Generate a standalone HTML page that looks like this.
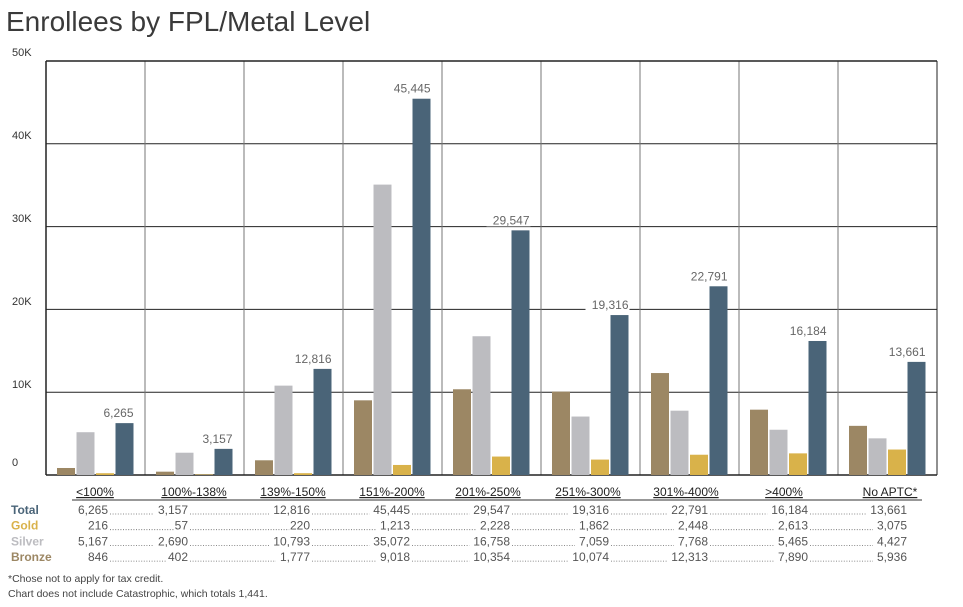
<!DOCTYPE html>
<html><head><meta charset="utf-8"><style>
body{margin:0;background:#fff;width:963px;height:607px;overflow:hidden;font-family:"Liberation Sans","DejaVu Sans",sans-serif}
svg{display:block}
</style></head><body>
<svg id="s" width="963" height="607" xmlns="http://www.w3.org/2000/svg">
<text x="6" y="31" font-size="28" fill="#3a3a3a" font-family="Liberation Sans, sans-serif">Enrollees by FPL/Metal Level</text>
</svg>
<script>
const s=document.getElementById('s');let h='';
const L=46,R=937,T=61,B=475,W=(R-L)/9;
const sc=(B-T)/50000;
[10000,20000,30000,40000].forEach(v=>{const y=B-v*sc;h+=`<line x1="${L}" x2="${R}" y1="${y}" y2="${y}" stroke="#222" stroke-width="1"/>`;});
for(let i=1;i<9;i++){const x=L+i*W;h+=`<line x1="${x}" x2="${x}" y1="${T}" y2="${B}" stroke="#777" stroke-width="1"/>`;}
h+=`<line x1="${L}" x2="${R}" y1="${T}" y2="${T}" stroke="#222" stroke-width="1.5"/>`;
h+=`<line x1="${L}" x2="${L}" y1="${T}" y2="${B}" stroke="#222" stroke-width="1.5"/>`;
h+=`<line x1="${R}" x2="${R}" y1="${T}" y2="${B}" stroke="#222" stroke-width="1"/>`;
h+=`<line x1="${L}" x2="${R}" y1="${B}" y2="${B}" stroke="#222" stroke-width="1.5"/>`;
[['50K',T],['40K',144],['30K',227],['20K',310],['10K',393],['0',471]].forEach(([t,y])=>{h+=`<text x="12" y="${y-5}" font-size="11" fill="#333">${t}</text>`;});
const d=[[846,5167,216,6265],[402,2690,57,3157],[1777,10793,220,12816],[9018,35072,1213,45445],[10354,16758,2228,29547],[10074,7059,1862,19316],[12313,7768,2448,22791],[7890,5465,2613,16184],[5936,4427,3075,13661]];
const cols=['#9c8764','#bcbcc0','#d9b24a','#4a6478'];
const fmt=v=>v.toLocaleString('en-US');
d.forEach((g,i)=>{const x0=L+i*W+11;g.forEach((v,j)=>{const x=x0+j*19.5,bh=v*sc;h+=`<rect x="${x}" y="${B-bh}" width="18" height="${bh}" fill="${cols[j]}"/>`;});
const tx=x0+3*19.5+18,ty=B-g[3]*sc-6;const str=fmt(g[3]);const tw=str.length*7;
h+=`<rect x="${tx-tw-1}" y="${ty-12}" width="${tw+2}" height="14" fill="#fff"/><text x="${tx}" y="${ty}" font-size="12" fill="#666" text-anchor="end">${str}</text>`;});
const hc=[95,194,293,392,488,588,686,784,890];
const hd=['&lt;100%','100%-138%','139%-150%','151%-200%','201%-250%','251%-300%','301%-400%','&gt;400%','No APTC*'];
hd.forEach((t,i)=>{h+=`<text x="${hc[i]}" y="496" font-size="12" fill="#222" text-anchor="middle" text-decoration="underline">${t}</text>`;});
h+=`<line x1="72" x2="922" y1="500" y2="500" stroke="#777" stroke-width="1.5"/>`;
const ends=[108,188,310,410,510,609,708,808,907];
const rows=[['Total','#4a6478',3],['Gold','#d9b24a',2],['Silver','#bcbcc0',1],['Bronze','#9c8764',0]];
rows.forEach(([n,c,k],r)=>{const y=514+r*15.7;h+=`<text x="11" y="${y}" font-size="12" font-weight="bold" fill="${c}">${n}</text>`;
let prev=null;d.forEach((g,i)=>{const str=fmt(g[k]);const w=str.length*6.6;const st=ends[i]-w;
if(prev!==null)h+=`<line x1="${prev+2}" x2="${st-1}" y1="${y}" y2="${y}" stroke="#666" stroke-width="0.8" stroke-dasharray="1,1.6"/>`;
h+=`<text x="${ends[i]}" y="${y}" font-size="12" fill="#555" text-anchor="end">${str}</text>`;prev=ends[i];});});
h+=`<text x="8" y="582" font-size="10.5" fill="#444">*Chose not to apply for tax credit.</text>`;
h+=`<text x="8" y="597" font-size="10.5" fill="#444">Chart does not include Catastrophic, which totals 1,441.</text>`;
s.insertAdjacentHTML('beforeend',h);
</script>
</body></html>
